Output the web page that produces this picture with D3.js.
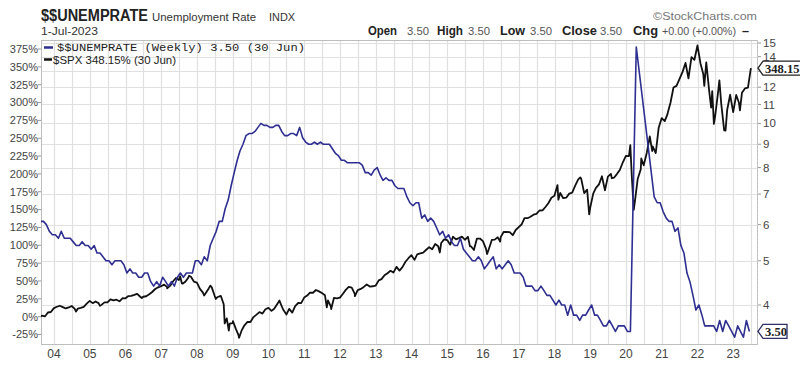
<!DOCTYPE html>
<html><head><meta charset="utf-8">
<script src="https://cdn.jsdelivr.net/npm/d3@7"></script>
<style>body{margin:0;background:#fff;} svg{display:block;font-family:"Liberation Sans",Arial,sans-serif;}</style>
</head><body><svg id="c" width="800" height="369"></svg>
<script>
// ---------- DATA ----------
// Unemployment rate, monthly (plotted mid-month), starting Aug 2003; null = not plotted in the source
const unempStartMonth = "2003-08";
const unempRate = [
  6.1, 6.1, 6.0, 5.8, 5.7,
  5.7, 5.6, 5.8, 5.6, 5.6, 5.6, 5.5, 5.4, 5.4, 5.5, 5.4, 5.4,
  5.3, 5.4, 5.2, 5.2, 5.1, 5.0, 5.0, 4.9, 5.0, 5.0, 5.0, 4.9,
  4.7, 4.8, 4.7, 4.7, 4.6, 4.6, 4.7, 4.7, 4.5, 4.4, 4.5, 4.4,
  4.6, 4.5, 4.4, 4.5, 4.4, 4.6, 4.7, 4.6, 4.7, 4.7, 4.7, 5.0,
  5.0, 4.9, 5.1, 5.0, 5.4, 5.6, 5.8, 6.1, 6.1, 6.5, 6.8, 7.3,
  7.8, 8.3, 8.7, 9.0, 9.4, 9.5, 9.5, 9.6, 9.8, 10.0, 9.9, 9.9,
  9.8, 9.8, 9.9, 9.9, 9.6, 9.4, 9.4, 9.5, 9.5, 9.4, 9.8, 9.3,
  9.1, 9.0, 9.0, 9.1, 9.0, 9.1, 9.0, 9.0, 9.0, 8.8, 8.6, 8.5,
  8.3, 8.3, 8.2, 8.2, 8.2, 8.2, 8.2, 8.1, 7.8, 7.8, 7.7, 7.9,
  8.0, 7.7, 7.5, 7.6, 7.5, 7.5, 7.3, 7.2, 7.2, 7.2, 6.9, 6.7,
  6.6, 6.7, 6.7, 6.2, 6.3, 6.1, 6.2, 6.1, 5.9, 5.7, 5.8, 5.6,
  5.7, 5.5, 5.4, 5.4, 5.6, 5.3, 5.2, 5.1, 5.0, 5.0, 5.1, 5.0,
  4.8, 4.9, 5.0, 5.1, 4.8, 4.9, 4.8, 4.9, 5.0, 4.9, 4.7, 4.7,
  4.7, 4.6, 4.4, 4.4, 4.4, 4.3, 4.3, 4.4, 4.3, 4.2, 4.2, 4.1,
  4.0, 4.1, 4.0, 4.0, 3.8, 4.0, 3.8, 3.8, 3.7, 3.8, 3.8, 3.9,
  4.0, 3.8, 3.8, 3.7, 3.6, 3.6, 3.7, 3.6, 3.5, 3.6, 3.6, 3.6,
  3.5, 3.5, null, 14.7, null, null, null, null, null, 6.9, 6.7, 6.7,
  6.4, 6.2, 6.1, 6.1, 5.8, 5.9, 5.4, 5.2, 4.7, 4.5, 4.2, 3.9,
  4.0, 3.8, 3.6, 3.6, 3.6, 3.6, 3.5, 3.7, 3.5, 3.7, 3.6, 3.5,
  3.4, 3.6, 3.5, 3.4, 3.7, 3.5
];

// S&P 500 month-end closes starting Aug 2003
const spxStartMonth = "2003-08";
const spxMonthClose = [
  1008, 996, 1051, 1058, 1112,
  1131, 1145, 1126, 1107, 1121, 1141, 1102, 1104, 1115, 1130, 1174, 1212,
  1181, 1204, 1181, 1157, 1192, 1191, 1234, 1220, 1229, 1207, 1249, 1248,
  1280, 1281, 1295, 1311, 1270, 1270, 1277, 1304, 1336, 1378, 1401, 1418,
  1438, 1407, 1421, 1482, 1531, 1503, 1455, 1474, 1527, 1549, 1481, 1468,
  1379, 1331, 1323, 1386, 1400, 1280, 1267, 1283, 1166, 969, 896, 903,
  826, 735, 798, 873, 919, 919, 987, 1021, 1057, 1036, 1096, 1115,
  1074, 1104, 1169, 1187, 1089, 1031, 1102, 1049, 1141, 1183, 1181, 1258,
  1286, 1327, 1326, 1364, 1345, 1321, 1292, 1219, 1131, 1253, 1247, 1258,
  1312, 1366, 1408, 1398, 1310, 1362, 1379, 1407, 1441, 1412, 1416, 1426,
  1498, 1515, 1569, 1598, 1631, 1606, 1686, 1633, 1682, 1757, 1806, 1848,
  1783, 1859, 1872, 1884, 1924, 1960, 1931, 2003, 1972, 2018, 2068, 2059,
  1995, 2105, 2068, 2086, 2107, 2063, 2104, 1972, 1920, 2079, 2080, 2044,
  1940, 1932, 2060, 2065, 2097, 2099, 2174, 2171, 2168, 2126, 2199, 2239,
  2279, 2364, 2363, 2384, 2412, 2423, 2470, 2472, 2519, 2575, 2648, 2674,
  2824, 2714, 2641, 2648, 2705, 2718, 2816, 2902, 2914, 2712, 2760, 2507,
  2704, 2784, 2834, 2946, 2752, 2942, 2980, 2926, 2977, 3038, 3141, 3231,
  3226, 2954, 2585, 2912, 3044, 3100, 3271, 3500, 3363, 3270, 3622, 3756,
  3714, 3811, 3973, 4181, 4204, 4298, 4395, 4523, 4308, 4605, 4567, 4766,
  4516, 4374, 4530, 4132, 4132, 3785, 4130, 3955, 3586, 3872, 4080, 3840,
  4077, 3970, 4109, 4169, 4180, 4450.38
];
// additional weekly closes (swings)
const spxWeekDates = ["2003-08-22","2004-08-13","2005-04-15","2006-06-16","2007-03-02","2007-07-13","2007-08-10","2007-10-12",
  "2008-03-14","2008-05-16","2008-07-11","2008-10-10","2008-11-21","2009-01-02","2009-03-06","2010-04-23","2010-07-02",
  "2011-08-19","2011-10-03","2012-03-30","2012-06-01","2014-10-17","2015-08-21","2016-02-12","2016-06-24","2018-02-09",
  "2018-09-21","2018-12-21","2019-08-09","2020-02-14","2020-03-20","2020-06-05","2020-09-25","2021-03-05","2022-03-11",
  "2022-05-20","2022-06-17","2022-08-12","2022-10-14","2023-03-10"];
const spxWeekClose = [993.06, 1064, 1143, 1252, 1387, 1553, 1453, 1562,
  1288, 1425, 1239, 899, 800, 931, 700, 1217, 1022,
  1124, 1099, 1408, 1278, 1886, 1971, 1865, 2037, 2620,
  2930, 2417, 2919, 3380, 2480, 3194, 3298, 3842, 4204,
  3901, 3675, 4280, 3583, 3862];

const leftTicks = [-25, 0, 25, 50, 75, 100, 125, 150, 175, 200, 225, 250, 275, 300, 325, 350, 375];
const rightTicks = [4, 5, 6, 7, 8, 9, 10, 11, 12, 13, 14, 15];
const rightLabels = [4, 5, 6, 7, 8, 9, 10, 11, 12, 14, 15];
const yearLabels = [2004,2005,2006,2007,2008,2009,2010,2011,2012,2013,2014,2015,2016,2017,2018,2019,2020,2021,2022,2023];

// ---------- BUILD ----------
const parseM = d3.utcParse("%Y-%m"), parseD = d3.utcParse("%Y-%m-%d");
const u0 = parseM(unempStartMonth);
const unemp = unempRate.map((v, i) => ({d: d3.utcDay.offset(d3.utcMonth.offset(u0, i), 14), v}))
  .filter(p => p.v !== null);
const s0 = parseM(spxStartMonth);
let spx = spxMonthClose.map((v, i) => ({d: d3.utcDay.offset(d3.utcMonth.offset(s0, i + 1), -1), v}));
spxWeekDates.forEach((s, i) => spx.push({d: parseD(s), v: spxWeekClose[i]}));
spx.sort((a, b) => a.d - b.d);
const base = spx[0].v;
spx.forEach(p => p.pct = (p.v / base - 1) * 100);
const lastSpx = spx[spx.length - 1], lastUn = unemp[unemp.length - 1];

const L = 41, R = 758, T = 40, B = 345;
const svg = d3.select("#c");
const x = d3.scaleUtc().domain([parseD("2004-01-01"), parseD("2020-01-01")]).range([54, 626]);
const yL = d3.scaleLinear().domain([-25, 375]).range([334.5, 49]);
const yR = d3.scaleLog().domain([4, 15]).range([305, 43]);

svg.append("defs").append("clipPath").attr("id", "pc").append("rect")
  .attr("x", L).attr("y", T).attr("width", R - L).attr("height", B - T);

// grid
const g = svg.append("g");
const halfYears = d3.utcMonth.every(6).range(x.invert(L), x.invert(R));
g.selectAll(".vg").data(halfYears).join("line")
  .attr("x1", d => Math.round(x(d)) + 0.5).attr("x2", d => Math.round(x(d)) + 0.5)
  .attr("y1", T).attr("y2", B).attr("stroke", "#e0e0e0").attr("stroke-width", 1.2);
g.selectAll(".hg").data(rightTicks).join("line")
  .attr("x1", L).attr("x2", R).attr("y1", d => Math.round(yR(d)) + 0.5).attr("y2", d => Math.round(yR(d)) + 0.5)
  .attr("stroke", "#e0e0e0").attr("stroke-width", 1.2);

// border
svg.append("rect").attr("x", L + 0.5).attr("y", T + 0.5).attr("width", R - L - 1).attr("height", B - T - 1)
  .attr("fill", "none").attr("stroke", "#bdbdbd");
svg.append("line").attr("x1", R - 0.5).attr("x2", R - 0.5).attr("y1", T).attr("y2", B)
  .attr("stroke", "#c8c8c8").attr("stroke-dasharray", "2,2");

// left axis
const la = svg.append("g");
la.selectAll("line").data(leftTicks).join("line")
  .attr("x1", L - 3).attr("x2", L).attr("y1", d => yL(d)).attr("y2", d => yL(d)).attr("stroke", "#999");
la.selectAll("text").data(leftTicks).join("text")
  .attr("x", L - 3).attr("y", d => yL(d)).attr("dy", "0.35em").attr("text-anchor", "end")
  .attr("font-size", 11).attr("fill", "#444").text(d => d + "%");

// right axis
const ra = svg.append("g");
ra.selectAll("line").data(rightTicks).join("line")
  .attr("x1", R).attr("x2", R + 3).attr("y1", d => yR(d)).attr("y2", d => yR(d)).attr("stroke", "#999");
ra.selectAll("text").data(rightLabels).join("text")
  .attr("x", R + 5).attr("y", d => yR(d)).attr("dy", "0.35em")
  .attr("font-size", 11.5).attr("fill", "#444").text(d => d);

// bottom axis
svg.append("g").selectAll("text").data(yearLabels).join("text")
  .attr("x", d => x(parseD(d + "-01-01"))).attr("y", 358).attr("text-anchor", "middle")
  .attr("font-size", 12).attr("fill", "#444").text(d => String(d).slice(2));

// lines
const plot = svg.append("g").attr("clip-path", "url(#pc)");
plot.append("path").datum(spx).attr("fill", "none").attr("stroke", "#111").attr("stroke-width", 1.8)
  .attr("stroke-linejoin", "round")
  .attr("d", d3.line().x(d => x(d.d)).y(d => yL(d.pct)));
plot.append("path").datum(unemp).attr("fill", "none").attr("stroke", "#2f2f92").attr("stroke-width", 1.6)
  .attr("stroke-linejoin", "round")
  .attr("d", d3.line().x(d => x(d.d)).y(d => yR(d.v)));

// legend
svg.append("line").attr("x1", 44).attr("x2", 53).attr("y1", 47.5).attr("y2", 47.5).attr("stroke", "#2f2f92").attr("stroke-width", 2.5);
svg.append("text").attr("x", 57).attr("y", 51).attr("font-family", "'Liberation Mono','DejaVu Sans Mono',monospace")
  .attr("font-size", 11.5).attr("fill", "#222").attr("textLength", 248).attr("lengthAdjust", "spacingAndGlyphs")
  .text(`$$UNEMPRATE (Weekly) ${lastUn.v.toFixed(2)} (30 Jun)`);
svg.append("line").attr("x1", 44).attr("x2", 52).attr("y1", 59.5).attr("y2", 59.5).attr("stroke", "#111").attr("stroke-width", 2.5);
svg.append("text").attr("x", 53).attr("y", 64).attr("font-size", 10.5).attr("fill", "#222")
  .attr("textLength", 123).attr("lengthAdjust", "spacingAndGlyphs")
  .text(`$SPX ${lastSpx.pct.toFixed(2)}% (30 Jun)`);

// header
svg.append("text").attr("x", 41).attr("y", 21).attr("font-size", 16).attr("font-weight", "bold").attr("fill", "#222")
  .attr("textLength", 107).attr("lengthAdjust", "spacingAndGlyphs").text("$$UNEMPRATE");
svg.append("text").attr("x", 152).attr("y", 21).attr("font-size", 11.5).attr("fill", "#333")
  .attr("textLength", 104).attr("lengthAdjust", "spacingAndGlyphs").text("Unemployment Rate");
svg.append("text").attr("x", 269).attr("y", 21).attr("font-size", 10).attr("fill", "#333")
  .attr("textLength", 26).attr("lengthAdjust", "spacingAndGlyphs").text("INDX");
svg.append("text").attr("x", 41).attr("y", 35).attr("font-size", 11).attr("fill", "#333")
  .attr("textLength", 57).attr("lengthAdjust", "spacingAndGlyphs").text("1-Jul-2023");
svg.append("text").attr("x", 653).attr("y", 20).attr("font-size", 11.5).attr("fill", "#777")
  .attr("textLength", 104).attr("lengthAdjust", "spacingAndGlyphs").text("©StockCharts.com");

const ohlc = [
  {t: "Open", x: 368, w: 29, b: true}, {t: "3.50", x: 407, w: 22},
  {t: "High", x: 437, w: 26, b: true}, {t: "3.50", x: 468, w: 22},
  {t: "Low", x: 500, w: 25, b: true}, {t: "3.50", x: 530, w: 22},
  {t: "Close", x: 562, w: 35, b: true}, {t: "3.50", x: 600, w: 22},
  {t: "Chg", x: 633, w: 25, b: true}, {t: "+0.00 (+0.00%)", x: 662, w: 74},
  {t: "–", x: 742, w: 7, b: true}
];
svg.append("g").selectAll("text").data(ohlc).join("text")
  .attr("x", d => d.x).attr("y", 35).attr("font-size", d => d.b ? 12.5 : 11)
  .attr("font-weight", d => d.b ? "bold" : "normal").attr("fill", d => d.b ? "#222" : "#555")
  .attr("textLength", d => d.w).attr("lengthAdjust", "spacingAndGlyphs").text(d => d.t);

// value tags
function tag(cy, txt, color, w, fs) {
  const p = `M${R},${cy} L${R + 5},${cy - 7} L${R + w},${cy - 7} L${R + w},${cy + 7} L${R + 5},${cy + 7} Z`;
  svg.append("path").attr("d", p).attr("fill", "#fff").attr("stroke", color).attr("stroke-width", 1.3);
  svg.append("text").attr("x", R + 7).attr("y", cy + 4.5).attr("font-family", "'Liberation Serif','Times New Roman',serif")
    .attr("font-weight", "bold").attr("font-size", fs).attr("fill", "#222").text(txt);
}
tag(yL(lastSpx.pct), lastSpx.pct.toFixed(2), "#222", 50, 12.5);
tag(yR(lastUn.v), lastUn.v.toFixed(2), "#2f2f6a", 29, 12.5);
</script></body></html>
